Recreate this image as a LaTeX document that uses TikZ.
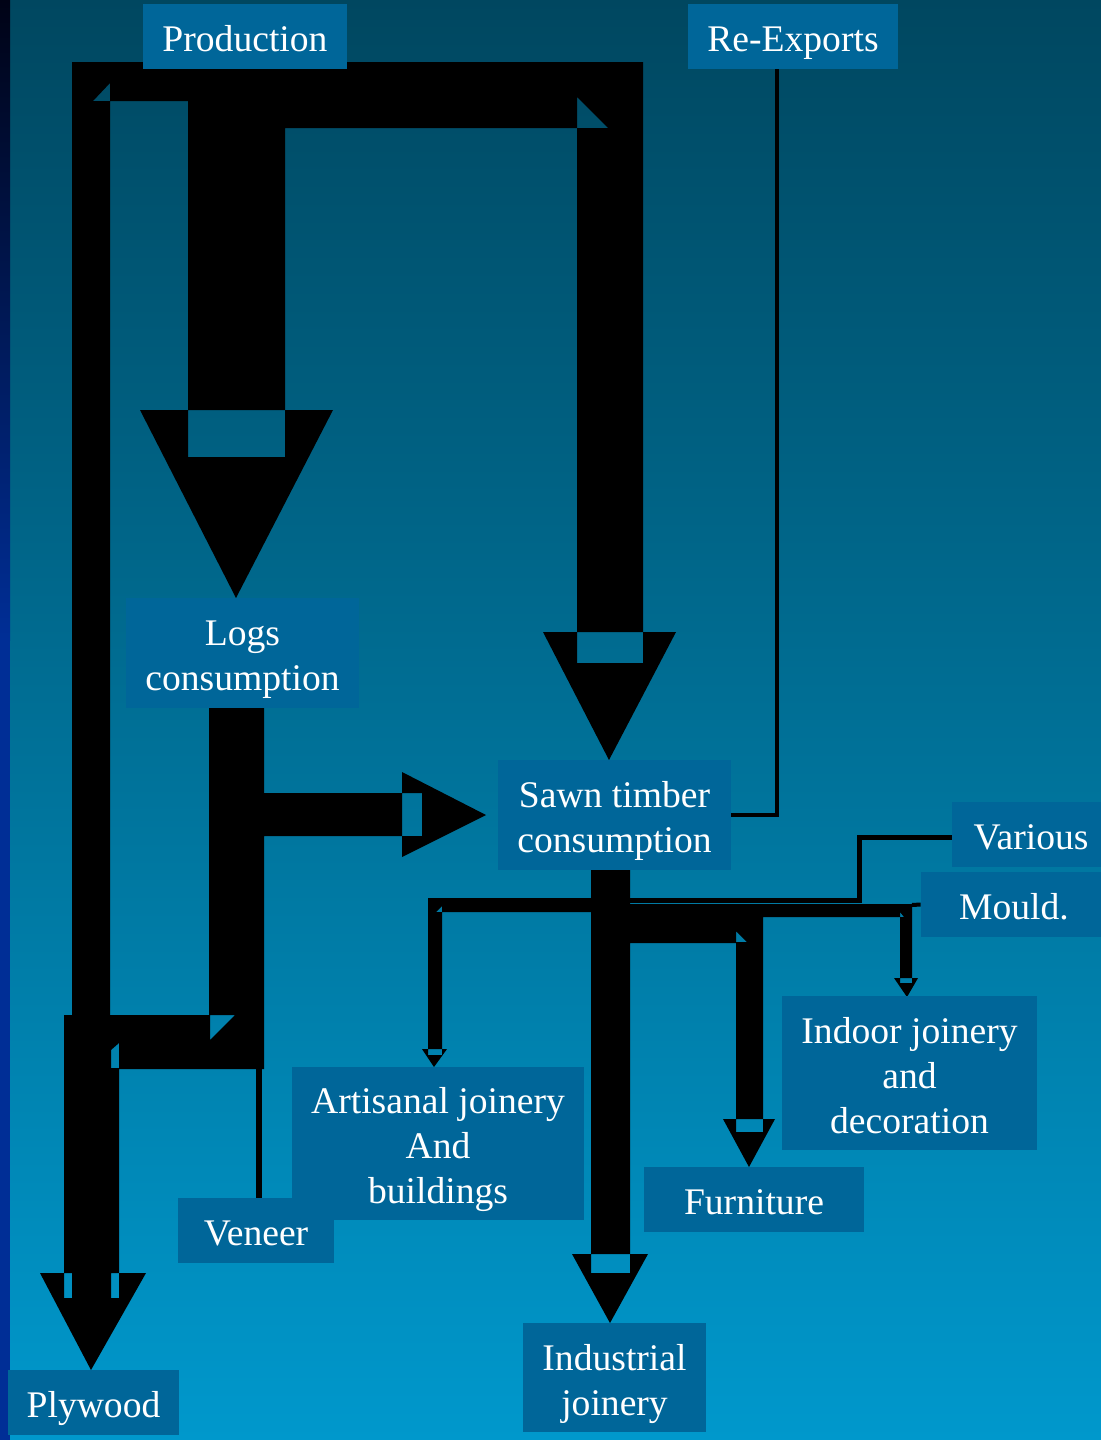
\documentclass[tikz,border=0pt]{standalone}
\usepackage{fontspec}
\setmainfont{Liberation Serif}
\definecolor{bgtop}{RGB}{0,71,96}
\definecolor{bgbot}{RGB}{0,152,204}
\definecolor{boxblue}{RGB}{0,102,153}
\definecolor{edgetop}{RGB}{0,3,22}
\definecolor{edgeblue}{RGB}{0,46,150}
\newcommand\up{\rule{0pt}{20pt}}
\newcommand\dn{\rule[-5pt]{0pt}{5pt}}

\begin{document}
\begin{tikzpicture}[x=0.5pt,y=-0.5pt]
	\tikzstyle{lbl}=[fill=boxblue, text=white, inner sep=0pt, align=center, font=\fontsize{18.8}{22.5}\selectfont]
	\tikzstyle{flow}=[fill=black, even odd rule]
	\tikzstyle{link}=[draw=black, line width=2.5pt]
	\useasboundingbox (0,0) rectangle (1101,1440);
	\shade[top color=bgtop, bottom color=bgbot] (0,0) rectangle (1101,1440);
	\shade[top color=edgetop, bottom color=edgeblue] (0,0) rectangle (10,640);
	\fill[edgeblue] (0,640) rectangle (10,1440);
	% production split
	\fill[flow] (72,62) -- (643,62) -- (643,663) -- (577,663) -- (577,128) -- (285,128) -- (285,457) -- (188,457) -- (188,101) -- (110,101) -- (110,1020) -- (72,1020) -- cycle
		(140,410) -- (333,410) -- (236,598) -- cycle
		(543,632) -- (676,632) -- (609,760) -- cycle
		(93,101) -- (110,101) -- (110,83) -- cycle
		(577,97) -- (577,128) -- (608,128) -- cycle;
	% logs split
	\fill[flow] (209,700) -- (264,700) -- (264,793) -- (422,793) -- (422,836) -- (264,836) -- (264,1069) -- (119,1069) -- (119,1298) -- (64,1298) -- (64,1015) -- (209,1015) -- cycle
		(402,772) -- (402,857) -- (486,815) -- cycle
		(40,1273) -- (146,1273) -- (91,1370) -- cycle
		(72,1273) rectangle (111,1298)
		(210,1015) -- (235,1015) -- (210,1040) -- cycle
		(111,1050) -- (119,1043) -- (119,1068) -- (111,1068) -- cycle;
	% sawn timber split
	\fill[flow] (591,865) -- (630,865) -- (630,904) -- (912,904) -- (912,983) -- (900,983) -- (900,917) -- (763,917) -- (763,1132) -- (736,1132) -- (736,943) -- (630,943) -- (630,1273) -- (591,1273) -- (591,912) -- (442,912) -- (442,1055) -- (428,1055) -- (428,898) -- (591,898) -- cycle
		(572,1254) -- (648,1254) -- (610,1323) -- cycle
		(723,1119) -- (775,1119) -- (749,1167) -- cycle
		(894,978) -- (918,978) -- (907,997) -- cycle
		(422,1049) -- (447,1049) -- (434,1067) -- cycle
		(736,931) -- (747,942) -- (736,942) -- cycle
		(436,912) -- (442,912) -- (442,906) -- cycle
		(900,912) -- (904,917) -- (900,917) -- cycle;

	\node[lbl, minimum width=102pt, minimum height=32.5pt] (prod) at (245,36.5) {\up Production\dn};
	\node[lbl, minimum width=105pt, minimum height=32.5pt] (reexp) at (793,36.5) {\up Re-Exports\dn};
	\node[lbl, minimum width=116.5pt, minimum height=55pt] (logs) at (242.5,653) {\up Logs\\consumption\dn};
	\node[lbl, minimum width=116.5pt, minimum height=55pt] (sawn) at (614.5,815) {\up Sawn timber\\consumption\dn};
	\node[lbl, minimum width=79pt, minimum height=32.5pt] (various) at (1031,834.5) {\up Various\dn};
	\node[lbl, minimum width=93pt, minimum height=32.5pt] (mould) at (1014,904.5) {\up Mould.\dn};
	\node[lbl, minimum width=127.5pt, minimum height=77pt] (indoor) at (909.5,1073) {\up Indoor joinery\\and\\decoration\dn};
	\node[lbl, minimum width=146pt, minimum height=76.5pt] (artis) at (438,1143.5) {\up Artisanal joinery\\And\\buildings\dn};
	\node[lbl, minimum width=78pt, minimum height=32.5pt] (veneer) at (256,1230.5) {\up Veneer\dn};
	\node[lbl, minimum width=110pt, minimum height=32.5pt] (furn) at (754,1199.5) {\up Furniture\dn};
	\node[lbl, minimum width=91.5pt, minimum height=54.5pt] (indus) at (614.5,1377.5) {\up Industrial\\joinery\dn};
	\node[lbl, minimum width=85.5pt, minimum height=32.5pt] (plywood) at (93.5,1402.5) {\up Plywood\dn};

	\draw[link, line width=2.25pt] (reexp.south) ++(-16,0) |- (sawn.east);
	\draw[link] ([yshift=-1.5pt]various.west) -| (859,900) -- (630,900);
	\draw[link, line width=2pt] (mould.west) -- (912,905);
	\draw[link, line width=3pt] (veneer.north) ++(3,0) -- ++(0,-129);
\end{tikzpicture}
\end{document}
